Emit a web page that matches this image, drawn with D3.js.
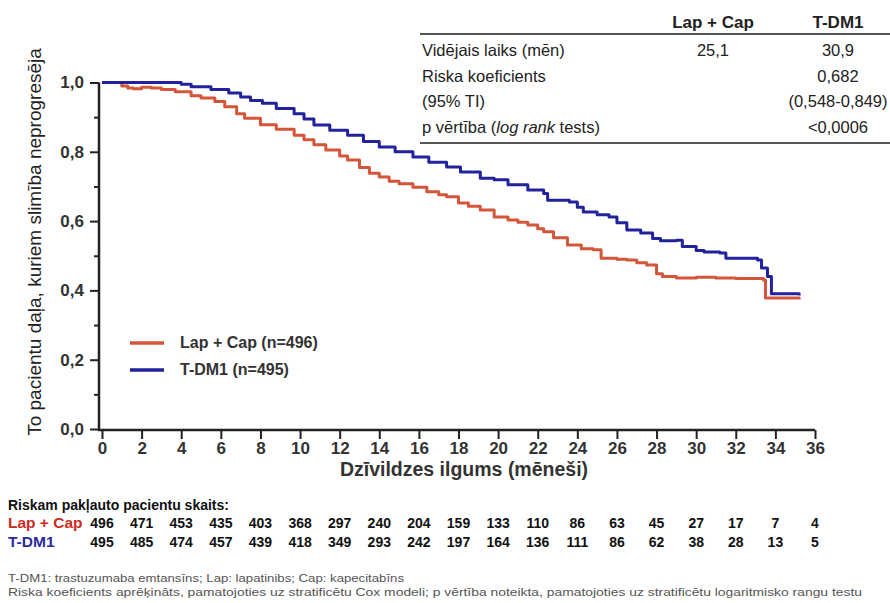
<!DOCTYPE html>
<html><head><meta charset="utf-8">
<script src="https://cdn.jsdelivr.net/npm/d3@7"></script>
<style>
body{margin:0;background:#fff;}
svg{display:block;font-family:"Liberation Sans",Arial,sans-serif;}
</style></head>
<body><svg id="chart" width="890" height="603"></svg>
<script>
// ---- data ----
const months = [0,2,4,6,8,10,12,14,16,18,20,22,24,26,28,30,32,34,36];
const yTicks = [0,0.2,0.4,0.6,0.8,1.0];
const yMinor = [0.1,0.3,0.5,0.7,0.9];
const seriesNames = ["Lap + Cap","T-DM1"];
const legendLabels = ["Lap + Cap (n=496)","T-DM1 (n=495)"];
const lapCapTime = [0,0.8,1.0,1.3,1.6,2.0,2.5,3.0,3.7,4.5,5.0,5.7,6.2,6.8,7.2,8.0,8.8,9.7,10.2,10.7,11.3,12.0,12.4,13.0,13.5,14.0,14.5,15.0,15.7,16.4,17.0,17.4,18.0,18.5,19.1,19.8,20.5,21.0,21.5,22.0,22.3,22.8,23.5,24.2,24.8,25.2,26.0,26.5,27.0,27.5,28.0,28.3,29.0,30.0,31.0,32.0,33.4,33.5,35.2];
const lapCapSurv = [1.0,1.0,0.99,0.984,0.982,0.986,0.984,0.98,0.973,0.962,0.955,0.945,0.93,0.91,0.897,0.878,0.865,0.848,0.835,0.82,0.805,0.788,0.776,0.755,0.738,0.727,0.715,0.708,0.698,0.685,0.676,0.67,0.652,0.643,0.632,0.612,0.603,0.597,0.589,0.578,0.569,0.552,0.531,0.52,0.517,0.493,0.49,0.488,0.48,0.473,0.448,0.44,0.436,0.438,0.436,0.434,0.43,0.378,0.374];
const tdm1Time = [0,3.5,4.0,4.5,5.5,6.4,7.0,7.5,8.1,8.8,9.7,10.2,10.7,11.5,12.4,13.2,14.0,14.8,15.7,16.5,17.4,18.1,19.1,19.8,20.5,21.5,22.3,22.5,23.6,24.0,24.3,25.0,25.6,26.0,26.5,27.2,27.8,28.2,29.0,29.3,30.0,30.4,31.2,31.5,33.1,33.3,33.6,33.8,35.2];
const tdm1Surv = [1.0,1.0,0.995,0.988,0.98,0.97,0.958,0.948,0.94,0.925,0.91,0.895,0.877,0.862,0.848,0.83,0.814,0.8,0.785,0.77,0.756,0.742,0.724,0.719,0.705,0.69,0.68,0.66,0.655,0.64,0.626,0.618,0.612,0.595,0.574,0.566,0.55,0.543,0.545,0.527,0.515,0.511,0.508,0.493,0.488,0.465,0.44,0.39,0.385];
const riskLapCap = [496,471,453,435,403,368,297,240,204,159,133,110,86,63,45,27,17,7,4];
const riskTdm1 = [495,485,474,457,439,418,349,293,242,197,164,136,111,86,62,38,28,13,5];
const tableCols = ["Lap + Cap","T-DM1"];
const tableRows = ["Vidējais laiks (mēn)","Riska koeficients","(95% TI)","p vērtība (log rank tests)"];
const tableLapCap = ["25,1","","",""];
const tableTdm1 = ["30,9","0,682","(0,548-0,849)","<0,0006"];
const footnotes = ["T-DM1: trastuzumaba emtansīns; Lap: lapatinibs; Cap: kapecitabīns",
 "Riska koeficients aprēķināts, pamatojoties uz stratificētu Cox modeli; p vērtība noteikta, pamatojoties uz stratificētu logaritmisko rangu testu"];

const colors = ["#d4563a","#22229c"];
const riskColors = ["#cc2a22","#2a2a9e"];

const svg = d3.select("#chart");
const x = d3.scaleLinear().domain([0,36]).range([102,815]);
const y = d3.scaleLinear().domain([0,1]).range([429,82.5]);
const axisColor = "#222";
const txtColor = "#333";
const fmt = d => d.toFixed(1).replace(".", ",");

// y axis
const gy = svg.append("g").attr("transform","translate(99,0)")
  .call(d3.axisLeft(y).tickValues(yTicks).tickSize(9).tickFormat(fmt));
gy.select(".domain").remove();
gy.selectAll(".tick line").attr("stroke",axisColor).attr("stroke-width",2);
gy.selectAll(".tick text").attr("font-size",17).attr("font-weight","bold").attr("fill",txtColor)
  .attr("font-family","Liberation Sans, Arial, sans-serif").attr("x",-15);
const gym = svg.append("g").attr("transform","translate(99,0)")
  .call(d3.axisLeft(y).tickValues(yMinor).tickSize(5).tickFormat(""));
gym.select(".domain").remove();
gym.selectAll(".tick line").attr("stroke",axisColor).attr("stroke-width",2);

// x axis
const gx = svg.append("g").attr("transform","translate(0,430)")
  .call(d3.axisBottom(x).tickValues(months).tickSize(9).tickFormat(d3.format("d")));
gx.select(".domain").remove();
gx.selectAll(".tick line").attr("stroke",axisColor).attr("stroke-width",2);
gx.selectAll(".tick text").attr("font-size",17).attr("font-weight","bold").attr("fill",txtColor)
  .attr("font-family","Liberation Sans, Arial, sans-serif").attr("y",12);

// axis lines
svg.append("path").attr("d",d3.line()([[99,y(1)],[99,430],[x(36),430]]))
  .attr("fill","none").attr("stroke",axisColor).attr("stroke-width",2.5);

// curves
const line = d3.line().x(d=>x(d[0])).y(d=>y(d[1])).curve(d3.curveStepAfter);
const curves = [d3.zip(lapCapTime,lapCapSurv), d3.zip(tdm1Time,tdm1Surv)];
curves.forEach((c,i)=>{
  svg.append("path").datum(c).attr("d",line).attr("fill","none")
    .attr("stroke",colors[i]).attr("stroke-width",3).attr("stroke-linejoin","round");
});

// axis titles
svg.append("text").attr("transform","translate(41,242) rotate(-90)")
  .attr("text-anchor","middle").attr("font-size",19).attr("fill","#222")
  .text("To pacientu daļa, kuriem slimība neprogresēja");
svg.append("text").attr("x",464).attr("y",476).attr("text-anchor","middle")
  .attr("font-size",19.5).attr("font-weight","bold").attr("fill",txtColor)
  .text("Dzīvildzes ilgums (mēneši)");

// legend
legendLabels.forEach((l,i)=>{
  const ly = 343 + i*27;
  svg.append("line").attr("x1",130).attr("x2",164).attr("y1",ly).attr("y2",ly)
    .attr("stroke",colors[i]).attr("stroke-width",3.5);
  svg.append("text").attr("x",180).attr("y",ly+5).attr("font-size",16)
    .attr("font-weight","bold").attr("fill",txtColor).text(l);
});

// table
svg.append("line").attr("x1",420).attr("x2",890).attr("y1",34).attr("y2",34).attr("stroke","#555").attr("stroke-width",2);
svg.append("line").attr("x1",420).attr("x2",890).attr("y1",143).attr("y2",143).attr("stroke","#555").attr("stroke-width",2);
const colX = [713,838];
tableCols.forEach((c,i)=>{
  svg.append("text").attr("x",colX[i]).attr("y",28).attr("text-anchor","middle")
    .attr("font-size",17).attr("font-weight","bold").attr("fill","#222").text(c);
});
tableRows.forEach((r,i)=>{
  const ty = 56 + i*25.7;
  const t = svg.append("text").attr("x",422).attr("y",ty).attr("font-size",16.5).attr("fill","#222");
  if (r.includes("log rank")) {
    t.append("tspan").text("p vērtība (");
    t.append("tspan").attr("font-style","italic").text("log rank");
    t.append("tspan").text(" tests)");
  } else t.text(r);
  svg.append("text").attr("x",colX[0]).attr("y",ty).attr("text-anchor","middle").attr("font-size",16.5).attr("fill","#222").text(tableLapCap[i]);
  svg.append("text").attr("x",colX[1]).attr("y",ty).attr("text-anchor","middle").attr("font-size",16.5).attr("fill","#222").text(tableTdm1[i]);
});

// risk table
svg.append("text").attr("x",8).attr("y",510).attr("font-size",14).attr("font-weight","bold")
  .attr("fill","#111").text("Riskam pakļauto pacientu skaits:");
[riskLapCap, riskTdm1].forEach((arr,i)=>{
  const ry = 528 + i*19;
  svg.append("text").attr("x",8).attr("y",ry).attr("font-size",15.5).attr("font-weight","bold")
    .attr("fill",riskColors[i]).text(seriesNames[i]);
  svg.selectAll(null).data(arr).enter().append("text")
    .attr("x",(d,j)=>x(months[j])).attr("y",ry).attr("text-anchor","middle")
    .attr("font-size",14).attr("font-weight","bold").attr("fill","#111").text(d=>d);
});

// footnotes
svg.append("text").attr("x",8).attr("y",582).attr("font-size",10.5).attr("fill","#555")
  .attr("textLength",396).attr("lengthAdjust","spacingAndGlyphs").text(footnotes[0]);
svg.append("text").attr("x",8).attr("y",596).attr("font-size",10.5).attr("fill","#555")
  .attr("textLength",854).attr("lengthAdjust","spacingAndGlyphs").text(footnotes[1]);
</script></body></html>
